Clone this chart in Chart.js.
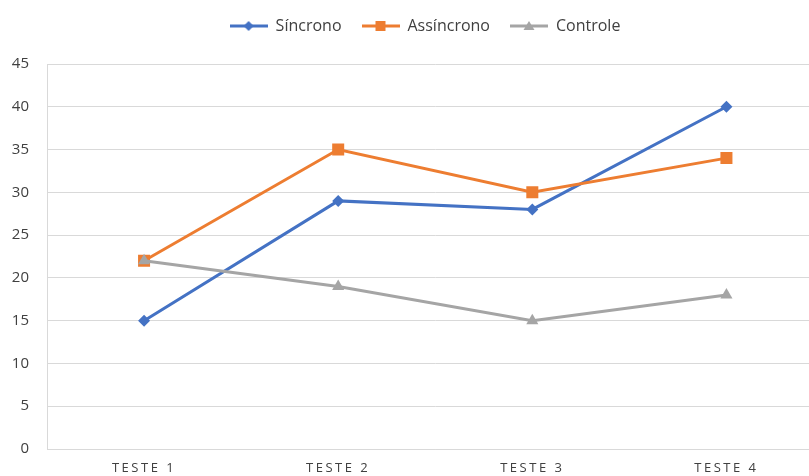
<!DOCTYPE html>
<html lang="pt">
<head>
<meta charset="UTF-8">
<title>Testes</title>
<script src="https://cdn.jsdelivr.net/npm/chart.js@4/dist/chart.umd.min.js"></script>
<style>
    html, body { margin: 0; padding: 0; background: #fff; overflow: hidden; }
    .wrap { width: 832px; height: 476px; }
</style>
</head>
<body>
<div class="wrap"><canvas id="chart"></canvas></div>
<script>
    const categories = ['TESTE 1', 'TESTE 2', 'TESTE 3', 'TESTE 4'];
    const sincrono = [15, 29, 28, 40];
    const assincrono = [22, 35, 30, 34];
    const controle = [22, 19, 15, 18];

    const font = "'Open Sans', 'Noto Sans', sans-serif";

    // small legend icon: line with the marker in the middle
    function legendIcon(color, shape) {
        const c = document.createElement('canvas');
        c.width = 38; c.height = 12;
        const g = c.getContext('2d');
        g.strokeStyle = color; g.fillStyle = color; g.lineWidth = 3;
        g.beginPath(); g.moveTo(0, 6); g.lineTo(38, 6); g.stroke();
        g.beginPath();
        if (shape === 'diamond') {
            g.moveTo(19, 1); g.lineTo(24, 6); g.lineTo(19, 11); g.lineTo(14, 6);
        } else if (shape === 'square') {
            g.rect(14, 1, 10, 10);
        } else {
            g.moveTo(19, 1); g.lineTo(24.5, 10); g.lineTo(13.5, 10);
        }
        g.closePath(); g.fill();
        return c;
    }
    const icons = [
        legendIcon('#4472C4', 'diamond'),
        legendIcon('#ED7D31', 'square'),
        legendIcon('#A5A5A5', 'triangle')
    ];

    const tweaks = {
        id: 'tweaks',
        beforeLayout(chart) {
            const lg = chart.legend;
            if (lg && !lg._patched) {
                const fit = lg.fit.bind(lg);
                lg.fit = function () { fit(); this.height += 20; };
                const draw = lg.draw.bind(lg);
                lg.draw = function () {
                    this.ctx.save();
                    this.ctx.translate(8, 0);
                    draw();
                    this.ctx.restore();
                };
                lg._patched = true;
            }
        },
        beforeDraw(chart) {
            const s = chart.scales.x;
            if (s && !s._patched) {
                const draw = s.drawLabels.bind(s);
                s.drawLabels = function (area) {
                    this.ctx.save();
                    this.ctx.letterSpacing = '2.5px';
                    draw(area);
                    this.ctx.restore();
                };
                s._patched = true;
            }
        }
    };

    new Chart(document.getElementById('chart'), {
        type: 'line',
        data: {
            labels: categories,
            datasets: [
                {
                    label: 'Síncrono', data: sincrono, order: 2,
                    borderColor: '#4472C4', backgroundColor: '#4472C4',
                    borderWidth: 3, pointStyle: 'rectRot', pointRadius: 6, pointBorderWidth: 0
                },
                {
                    label: 'Assíncrono', data: assincrono, order: 1,
                    borderColor: '#ED7D31', backgroundColor: '#ED7D31',
                    borderWidth: 3, pointStyle: 'rect', pointRadius: 8.5, pointBorderWidth: 0
                },
                {
                    label: 'Controle', data: controle, order: 0,
                    borderColor: '#A5A5A5', backgroundColor: '#A5A5A5',
                    borderWidth: 3, pointStyle: 'triangle', pointRadius: 7, pointBorderWidth: 0
                }
            ]
        },
        plugins: [tweaks],
        options: {
            responsive: true,
            maintainAspectRatio: false,
            animation: false,
            layout: { padding: { left: 2, right: 0, top: -2, bottom: -11 } },
            plugins: {
                legend: {
                    position: 'top',
                    labels: {
                        usePointStyle: true,
                        pointStyleWidth: 38,
                        font: { family: font, size: 16 },
                        color: '#404040',
                        padding: 20,
                        generateLabels(chart) {
                            return chart.data.datasets.map((ds, i) => ({
                                text: ds.label,
                                fillStyle: ds.backgroundColor,
                                strokeStyle: ds.borderColor,
                                lineWidth: 0,
                                pointStyle: icons[i],
                                fontColor: '#404040',
                                hidden: false,
                                datasetIndex: i
                            }));
                        }
                    }
                },
                tooltip: { enabled: false }
            },
            scales: {
                x: {
                    offset: true,
                    grid: { display: false, drawTicks: false },
                    border: { color: '#d9d9d9' },
                    ticks: { font: { family: font, size: 13 }, color: '#404040', padding: 11 }
                },
                y: {
                    min: 0, max: 45,
                    afterFit(scale) { scale.width = 45; },
                    ticks: { stepSize: 5, font: { family: font, size: 15 }, color: '#404040', padding: 18 },
                    grid: { color: '#d9d9d9', drawTicks: false },
                    border: { color: '#d9d9d9' }
                }
            }
        }
    });
</script>
</body>
</html>
